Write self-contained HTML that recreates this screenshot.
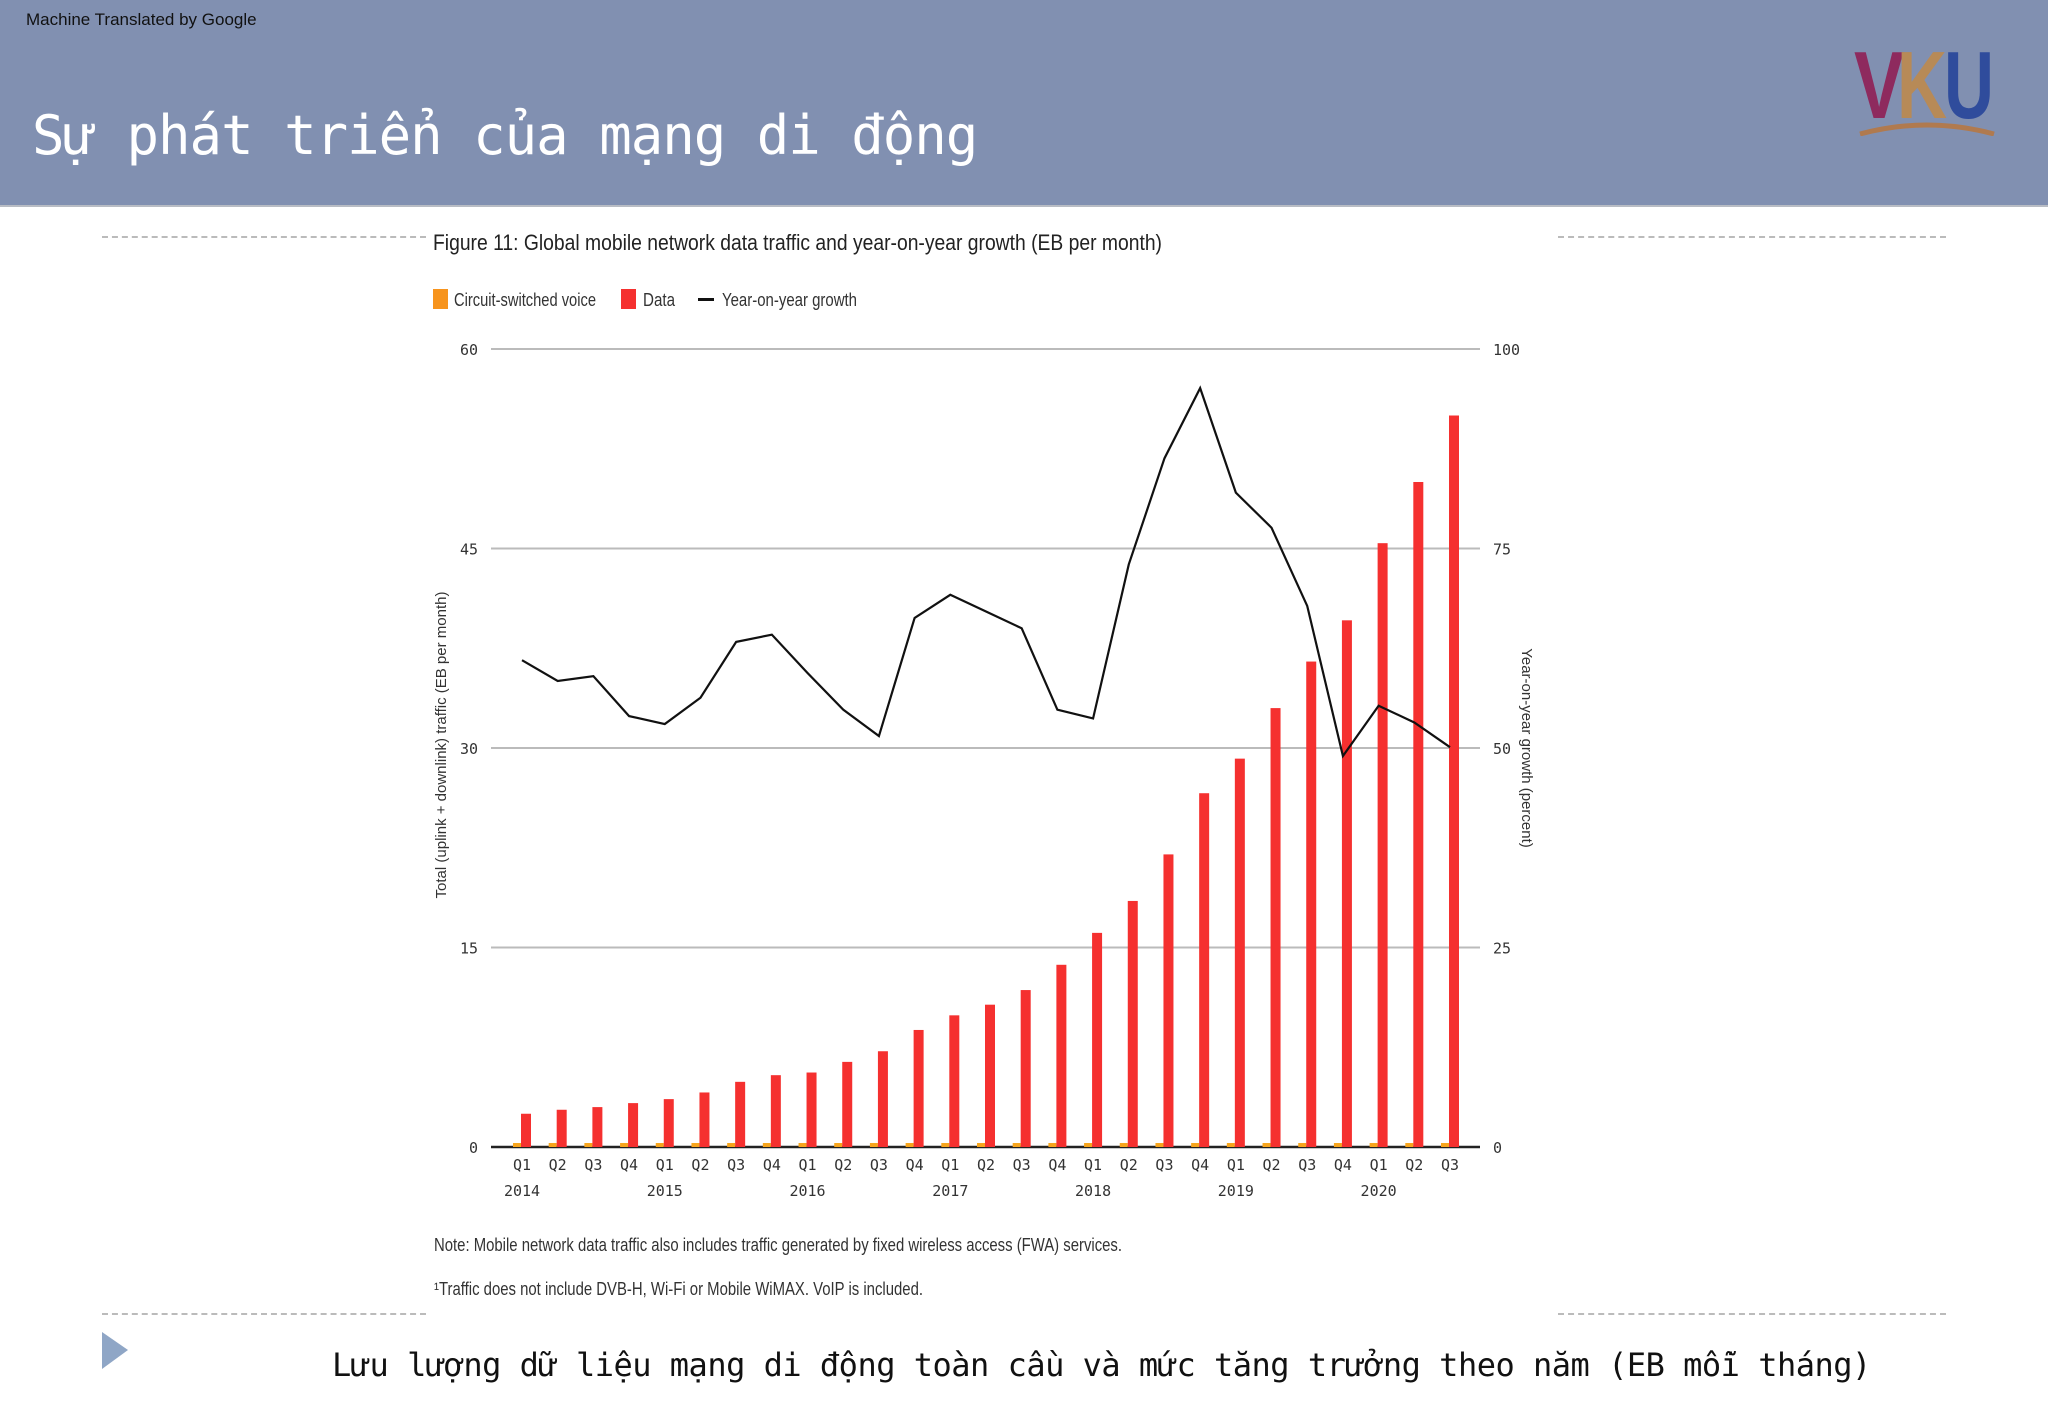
<!DOCTYPE html>
<html><head><meta charset="utf-8">
<style>
html,body{margin:0;padding:0;}
body{width:2048px;height:1418px;position:relative;background:#fff;overflow:hidden;font-family:"Liberation Sans",sans-serif;}
.hdr{position:absolute;left:0;top:0;width:2048px;height:205px;background:#8190b1;border-bottom:2px solid #b8bcc4;}
.mt{position:absolute;left:26px;top:10px;font-size:17px;color:#111;}
.title{position:absolute;left:32px;top:104px;font-family:"DejaVu Sans Mono","Liberation Mono",monospace;font-size:54px;color:#fff;letter-spacing:-1px;}
.dash{position:absolute;height:0;border-top:2px dashed #bbb;}
.cond{font-family:"Liberation Sans Narrow","Liberation Sans",sans-serif;}
.caption{position:absolute;left:332px;top:1346px;font-family:"DejaVu Sans Mono","Liberation Mono",monospace;font-size:32px;color:#111;letter-spacing:-0.5px;}
</style></head><body>
<div class="hdr">
  <div class="mt">Machine Translated by Google</div>
  <div class="title">Sự phát triển của mạng di động</div>
  <svg style="position:absolute;left:1852px;top:36px" width="150" height="100">
    <text x="2" y="82" font-family="Liberation Sans" font-weight="bold" font-size="96" fill="#8e2a5e" textLength="50" lengthAdjust="spacingAndGlyphs">V</text>
    <text x="45" y="82" font-family="Liberation Sans" font-weight="bold" font-size="96" fill="#b78a57" textLength="50" lengthAdjust="spacingAndGlyphs">K</text>
    <text x="92" y="82" font-family="Liberation Sans" font-weight="bold" font-size="96" fill="#2f4c9c" textLength="50" lengthAdjust="spacingAndGlyphs">U</text>
    <path d="M8 98 Q75 80 142 98" stroke="#b07a4f" stroke-width="5" fill="none"/>
  </svg>
</div>
<div class="dash" style="left:102px;top:236px;width:324px"></div>
<div class="dash" style="left:1558px;top:236px;width:388px"></div>
<div class="dash" style="left:102px;top:1313px;width:324px"></div>
<div class="dash" style="left:1558px;top:1313px;width:388px"></div>

<svg id="chart" style="position:absolute;left:0;top:0" width="2048" height="1418">
  <text x="433" y="250" class="cond" font-size="22" fill="#222" textLength="729" lengthAdjust="spacingAndGlyphs">Figure 11: Global mobile network data traffic and year-on-year growth (EB per month)</text>
  <g>
    <rect x="433" y="289" width="15" height="20" fill="#f7941d"/>
    <text x="454" y="306" class="cond" font-size="18" fill="#333" textLength="142" lengthAdjust="spacingAndGlyphs">Circuit-switched voice</text>
    <rect x="621" y="289" width="15" height="20" fill="#f5302f"/>
    <text x="643" y="306" class="cond" font-size="18" fill="#333" textLength="32" lengthAdjust="spacingAndGlyphs">Data</text>
    <rect x="698" y="298" width="16" height="3" fill="#111"/>
    <text x="722" y="306" class="cond" font-size="18" fill="#333" textLength="135" lengthAdjust="spacingAndGlyphs">Year-on-year growth</text>
  </g>
  <g id="grid"></g><g id="bars"></g><g id="line"></g><g id="labels"></g>
  <text transform="translate(446,745) rotate(-90)" text-anchor="middle" font-size="15" fill="#333">Total (uplink + downlink) traffic (EB per month)</text>
  <text transform="translate(1522,748) rotate(90)" text-anchor="middle" font-size="15" fill="#333">Year-on-year growth (percent)</text>
  <text x="434" y="1251" class="cond" font-size="18" fill="#333" textLength="688" lengthAdjust="spacingAndGlyphs">Note: Mobile network data traffic also includes traffic generated by fixed wireless access (FWA) services.</text>
  <text x="434" y="1295" class="cond" font-size="18" fill="#333" textLength="489" lengthAdjust="spacingAndGlyphs">¹Traffic does not include DVB-H, Wi-Fi or Mobile WiMAX. VoIP is included.</text>
</svg>
<svg style="position:absolute;left:102px;top:1332px" width="28" height="38"><polygon points="0,0 26,18 0,37" fill="#8fa6c6"/></svg>
<div class="caption">Lưu lượng dữ liệu mạng di động toàn cầu và mức tăng trưởng theo năm (EB mỗi tháng)</div>

<script>
const quarters = ["Q1","Q2","Q3","Q4","Q1","Q2","Q3","Q4","Q1","Q2","Q3","Q4","Q1","Q2","Q3","Q4","Q1","Q2","Q3","Q4","Q1","Q2","Q3","Q4","Q1","Q2","Q3"];
const years = ["2014","2015","2016","2017","2018","2019","2020"];
const dataEB = [2.5,2.8,3.0,3.3,3.6,4.1,4.9,5.4,5.6,6.4,7.2,8.8,9.9,10.7,11.8,13.7,16.1,18.5,22.0,26.6,29.2,33.0,36.5,39.6,45.4,50.0,55.0];
const voiceEB = [0.3,0.3,0.3,0.3,0.3,0.3,0.3,0.3,0.3,0.3,0.3,0.3,0.3,0.3,0.3,0.3,0.3,0.3,0.3,0.3,0.3,0.3,0.3,0.3,0.3,0.3,0.3];
const growth = [61,58.4,59,54,53,56.3,63.3,64.2,59.4,54.8,51.5,66.3,69.2,67.1,65,54.8,53.7,73,86.3,95.1,82,77.6,67.8,49,55.3,53.2,50.1];
const leftTicks = [0,15,30,45,60];
const rightTicks = [0,25,50,75,100];

const NS="http://www.w3.org/2000/svg";
const X0=491, X1=1480, Y0=1147, Y60=349;
const yL=v=>Y0-(v/60)*(Y0-Y60);
const yR=v=>Y0-(v/100)*(Y0-Y60);
const xC=i=>522+i*(1450-522)/(quarters.length-1);
function mk(tag,attrs,parent,text){const e=document.createElementNS(NS,tag);for(const k in attrs)e.setAttribute(k,attrs[k]);if(text!==undefined)e.textContent=text;parent.appendChild(e);return e;}
const grid=document.getElementById('grid'),bars=document.getElementById('bars'),line=document.getElementById('line'),labels=document.getElementById('labels');
leftTicks.forEach((t,i)=>{
  const y=yL(t);
  const g=mk('line',{x1:X0,x2:X1,y1:y,y2:y,stroke:i==0?'#222':'#bbb','stroke-width':i==0?2.5:2},grid);
  
  
  const l=mk('text',{x:478,y:y+6,'text-anchor':'end','font-family':'DejaVu Sans Mono, monospace','font-size':15,fill:'#333'},labels,String(t));
  
  
});
rightTicks.forEach(t=>{
  const y=yR(t);
  const l=mk('text',{x:1493,y:y+6,'font-family':'DejaVu Sans Mono, monospace','font-size':15,fill:'#333'},labels,String(t));
  
  
});
quarters.forEach((q,i)=>{
  const x=xC(i);
  const v=mk('rect',{x:x-9,y:yL(voiceEB[i]),width:8,height:Y0-yL(voiceEB[i]),fill:'#f7a51d'},bars);
  
  
  const b=mk('rect',{x:x-1,y:yL(dataEB[i]),width:10,height:Y0-yL(dataEB[i]),fill:'#f5302f'},bars);
  
  
  const l=mk('text',{x:x,y:1170,'text-anchor':'middle','font-family':'DejaVu Sans Mono, monospace','font-size':15,fill:'#333'},labels,q);
  
  
});
years.forEach((yr,j)=>{
  const l=mk('text',{x:xC(j*4),y:1196,'text-anchor':'middle','font-family':'DejaVu Sans Mono, monospace','font-size':15,fill:'#333'},labels,yr);
  
  
});
const pts=growth.map((g,i)=>xC(i)+','+yR(g)).join(' ');
const pl=mk('polyline',{points:pts,fill:'none',stroke:'#111','stroke-width':2.2},line);


</script>
</body></html>
